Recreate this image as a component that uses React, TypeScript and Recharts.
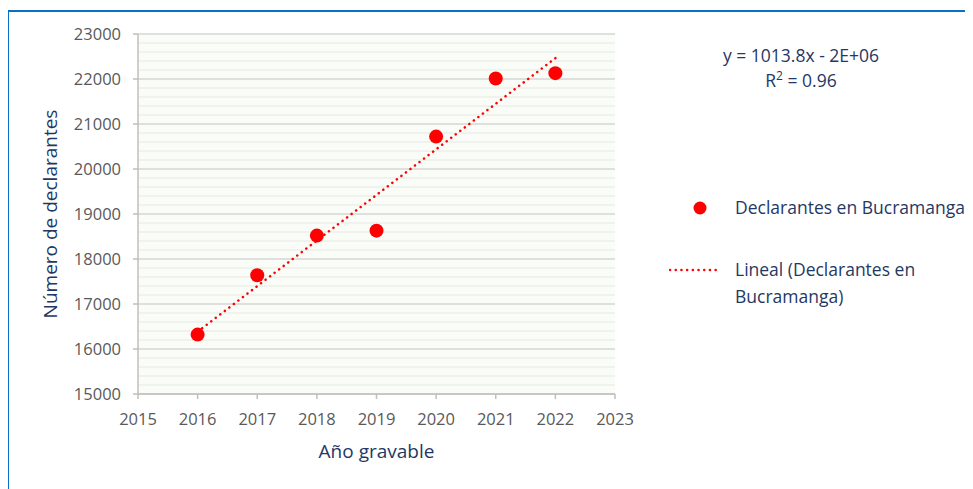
// Declarantes en Bucaramanga por año gravable, con línea de tendencia lineal.

import {
  ComposedChart, Scatter, Line, CartesianGrid,
  XAxis, YAxis,
} from 'recharts';

const years = [2016, 2017, 2018, 2019, 2020, 2021, 2022];
const declarantes = [16320, 17640, 18520, 18630, 20720, 22010, 22130];
const xTicks = [2015, 2016, 2017, 2018, 2019, 2020, 2021, 2022, 2023];
const yTicks = [15000, 16000, 17000, 18000, 19000, 20000, 21000, 22000, 23000];
const minorStep = 200;

const NAVY = '#1F3864';
const RED = '#FF0000';
const FONT = '"Open Sans", "Noto Sans", sans-serif';

const points = years.map((year, i) => ({ year, value: declarantes[i] }));

// regresión lineal por mínimos cuadrados (la "Lineal" de Excel)
const n = years.length;
const mx = years.reduce((s, v) => s + v, 0) / n;
const my = declarantes.reduce((s, v) => s + v, 0) / n;
const slope =
  years.reduce((s, x, i) => s + (x - mx) * (declarantes[i] - my), 0) /
  years.reduce((s, x) => s + (x - mx) * (x - mx), 0);
const intercept = my - slope * mx;
const trend = [years[0], years[n - 1]].map((year) => ({ year, trend: intercept + slope * year }));

const minorTicks: number[] = [];
for (let v = yTicks[0]; v <= yTicks[yTicks.length - 1]; v += minorStep) {
  if (!yTicks.includes(v)) minorTicks.push(v);
}

function Dot(props: { cx?: number; cy?: number }) {
  if (props.cx == null || props.cy == null) return null;
  return <circle cx={props.cx} cy={props.cy} r={7} fill={RED} />;
}

function LegendBox() {
  const text = { fontFamily: FONT, fontSize: 17.5, color: NAVY, lineHeight: '27px' };
  return (
    <div style={{ position: 'absolute', left: 660, top: 184, width: 300, height: 120 }}>
      <svg width={60} height={120} style={{ position: 'absolute', left: 0, top: 0 }}>
        <circle cx={31} cy={12} r={6.5} fill={RED} />
        <line x1={1} y1={74} x2={52} y2={74} stroke={RED} strokeWidth={2.5}
          strokeDasharray="0.1 5.6" strokeLinecap="round" />
      </svg>
      <div style={{ ...text, position: 'absolute', left: 66, top: -2, whiteSpace: 'nowrap' }}>
        Declarantes en Bucramanga
      </div>
      <div style={{ ...text, position: 'absolute', left: 66, top: 60, whiteSpace: 'nowrap' }}>
        Lineal (Declarantes en<br />Bucramanga)
      </div>
    </div>
  );
}

export default function App() {
  return (
    <div
      style={{
        position: 'relative',
        marginLeft: -1,
        marginTop: 2,
        width: 966,
        height: 480,
        borderLeft: '2px solid #0B6FC4',
        borderTop: '2px solid #0B6FC4',
        background: '#fff',
      }}
    >
      <ComposedChart
        width={960}
        height={476}
        data={points}
        margin={{ top: 22, right: 354, bottom: 64, left: 39 }}
      >
        <CartesianGrid
          vertical={false}
          horizontalValues={minorTicks}
          stroke="#EDF0EA"
          strokeWidth={1.5}
          fill="#FAFCF8"
          fillOpacity={1}
        />
        <CartesianGrid
          vertical={false}
          horizontalValues={yTicks}
          stroke="#D6D6D6"
          strokeWidth={1.5}
        />
        <XAxis
          dataKey="year"
          type="number"
          domain={[2015, 2023]}
          ticks={xTicks}
          interval={0}
          height={30}
          tick={{ fontSize: 16.5, fill: '#595959', fontFamily: FONT }}
          tickSize={5}
          tickMargin={14}
          axisLine={{ stroke: '#BFBFBF', strokeWidth: 1.5 }}
          tickLine={{ stroke: '#BFBFBF', strokeWidth: 1.5 }}
          label={{
            value: 'Año gravable',
            position: 'bottom',
            offset: 21,
            style: { fontSize: 19, fill: NAVY, fontFamily: FONT },
          }}
        />
        <YAxis
          type="number"
          domain={[15000, 23000]}
          ticks={yTicks}
          interval={0}
          width={90}
          tick={{ fontSize: 16.5, fill: '#595959', fontFamily: FONT }}
          tickSize={5}
          tickMargin={12}
          axisLine={{ stroke: '#BFBFBF', strokeWidth: 1.5 }}
          tickLine={{ stroke: '#BFBFBF', strokeWidth: 1.5 }}
          label={{
            value: 'Número de declarantes',
            angle: -90,
            position: 'insideLeft',
            offset: 2,
            style: { fontSize: 19, fill: NAVY, fontFamily: FONT, textAnchor: 'middle' },
          }}
        />
        <Line
          data={trend}
          dataKey="trend"
          type="linear"
          stroke={RED}
          strokeWidth={2.5}
          strokeDasharray="0.1 5.6"
          strokeLinecap="round"
          dot={false}
          activeDot={false}
          legendType="none"
          isAnimationActive={false}
        />
        <Scatter
          dataKey="value"
          name="Declarantes en Bucramanga"
          shape={<Dot />}
          isAnimationActive={false}
        />
      </ComposedChart>
      <LegendBox />
      <div
        style={{
          position: 'absolute',
          left: 692,
          top: 31,
          width: 200,
          textAlign: 'center',
          fontFamily: FONT,
          fontSize: 17.5,
          color: NAVY,
          lineHeight: '25px',
        }}
      >
        y = 1013.8x - 2E+06
        <br />
        R<sup style={{ fontSize: 12, lineHeight: 0 }}>2</sup> = 0.96
      </div>
    </div>
  );
}
